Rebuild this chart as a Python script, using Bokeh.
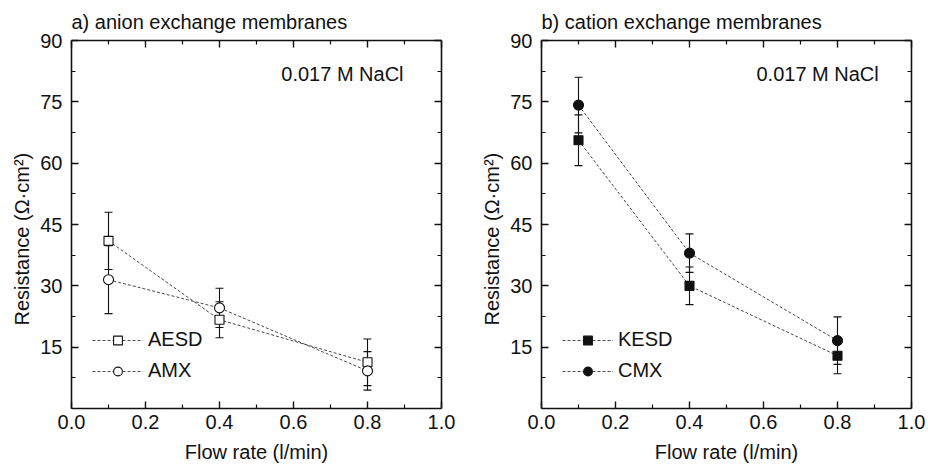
from bokeh.plotting import figure
from bokeh.models import (LinearAxis, FixedTicker, Whisker, TeeHead, ColumnDataSource,
                          Legend, LegendItem, Label, Range1d, CustomJSTickFormatter,
                          PrintfTickFormatter, Title)
from bokeh.layouts import row
from bokeh.embed import file_html
from bokeh.resources import INLINE

# ---- data ----
flow = [0.1, 0.4, 0.8]
aesd = [41.0, 21.7, 11.3]
aesd_err = [7.0, 4.4, 5.7]
amx = [31.5, 24.6, 9.2]
amx_err = [8.3, 4.8, 4.7]
kesd = [65.6, 30.0, 12.9]
kesd_err = [6.2, 4.6, 4.4]
cmx = [74.2, 38.0, 16.6]
cmx_err = [6.8, 4.7, 5.8]

x_ticks = [0.0, 0.2, 0.4, 0.6, 0.8, 1.0]
x_minor = [0.1, 0.3, 0.5, 0.7, 0.9]
y_ticks = [15, 30, 45, 60, 75, 90]
y_minor = [7.5, 22.5, 37.5, 52.5, 67.5, 82.5]

FONT = "Liberation Sans"
FS = "20px"
INK = "#111111"


def style_axis(ax, labels=True):
    ax.axis_line_width = 1.6
    ax.axis_line_color = INK
    ax.major_tick_line_width = 1.4
    ax.minor_tick_line_width = 1.2
    ax.major_tick_line_color = INK
    ax.minor_tick_line_color = INK
    ax.major_tick_in = 7
    ax.major_tick_out = 0
    ax.minor_tick_in = 4
    ax.minor_tick_out = 0
    ax.major_label_text_font = FONT
    ax.major_label_text_color = INK
    ax.major_label_text_font_size = FS
    ax.axis_label_text_font = FONT
    ax.axis_label_text_font_style = "normal"
    ax.axis_label_text_color = INK
    ax.axis_label_text_font_size = FS
    if not labels:
        ax.formatter = CustomJSTickFormatter(code="return ''")
        ax.major_label_standoff = 0


def make_panel(title, series, left_border, right_border, note_x):
    p = figure(width=464, height=471, output_backend="svg", toolbar_location=None,
               x_range=Range1d(0, 1), y_range=Range1d(0, 90),
               min_border_left=left_border, min_border_right=right_border,
               min_border_top=40, min_border_bottom=63)
    p.outline_line_color = None
    p.xgrid.visible = False
    p.ygrid.visible = False
    p.background_fill_color = "white"

    p.title.text = title
    p.title.text_font = FONT
    p.title.text_font_size = FS
    p.title.text_font_style = "normal"
    p.title.text_color = INK
    p.title.align = "left"
    p.title.offset = 0
    p.title.standoff = 15

    p.xaxis.ticker = FixedTicker(ticks=x_ticks, minor_ticks=x_minor)
    p.yaxis.ticker = FixedTicker(ticks=y_ticks, minor_ticks=y_minor)
    p.xaxis.formatter = PrintfTickFormatter(format="%.1f")
    p.xaxis.axis_label = "Flow rate (l/min)"
    for ax in p.xaxis:
        style_axis(ax)
        ax.major_label_standoff = 6
        ax.axis_label_standoff = 9
    for ax in p.yaxis:
        style_axis(ax)
        ax.major_label_standoff = 9

    ylab = Title(text="Resistance (Ω·cm²)", align="left", offset=83,
                 standoff=10, text_font=FONT, text_font_size=FS,
                 text_font_style="normal", text_color=INK)
    p.add_layout(ylab, "left")

    top = LinearAxis(ticker=FixedTicker(ticks=x_ticks, minor_ticks=x_minor))
    style_axis(top, labels=False)
    p.add_layout(top, "above")
    right = LinearAxis(ticker=FixedTicker(ticks=y_ticks, minor_ticks=y_minor))
    style_axis(right, labels=False)
    p.add_layout(right, "right")

    items = []
    for name, vals, errs, marker, filled, msize in series:
        src = ColumnDataSource(dict(
            x=flow, y=vals,
            lo=[v - e for v, e in zip(vals, errs)],
            hi=[v + e for v, e in zip(vals, errs)]))
        w = Whisker(base="x", lower="lo", upper="hi", source=src,
                    line_color=INK, line_width=1.1, level="underlay",
                    upper_head=TeeHead(size=8, line_color=INK, line_width=1.1),
                    lower_head=TeeHead(size=8, line_color=INK, line_width=1.1))
        p.add_layout(w)
        lr = p.line("x", "y", source=src, line_dash="3 2", line_width=0.9,
                    line_color="#333333")
        sr = p.scatter("x", "y", source=src, marker=marker, size=msize,
                       fill_color=INK if filled else "white",
                       line_color=INK, line_width=1.1)
        items.append(LegendItem(label=name, renderers=[lr, sr]))

    leg = Legend(items=items, location=(21, 22), border_line_color=None,
                 background_fill_alpha=0, padding=0, margin=0, spacing=0,
                 glyph_width=51, glyph_height=22, label_height=31,
                 label_standoff=5, label_text_font=FONT,
                 label_text_font_size=FS, label_text_color=INK)
    p.add_layout(leg)

    p.add_layout(Label(x=note_x, y=81.7, text="0.017 M NaCl", text_font=FONT,
                       text_font_size=FS, text_color=INK,
                       text_baseline="alphabetic", text_align="left"))
    return p


p1 = make_panel("a) anion exchange membranes",
                [("AESD", aesd, aesd_err, "square", False, 9),
                 ("AMX", amx, amx_err, "circle", False, 10)],
                71, 23, 0.567)
p2 = make_panel("b) cation exchange membranes",
                [("KESD", kesd, kesd_err, "square", True, 9),
                 ("CMX", cmx, cmx_err, "circle", True, 10)],
                77, 17, 0.581)

layout = row(p1, p2)
open("out.html", "w").write(file_html(layout, INLINE))
